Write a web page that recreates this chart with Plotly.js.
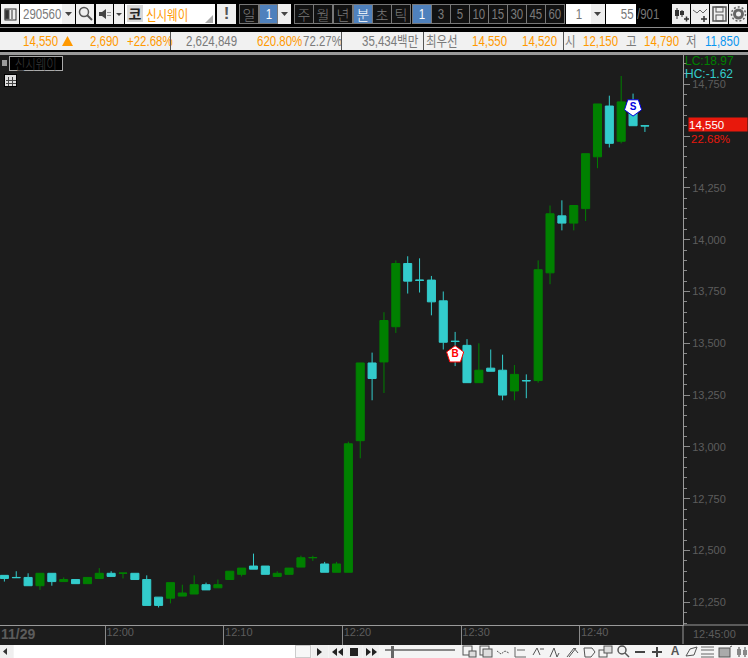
<!DOCTYPE html>
<html>
<head>
<meta charset="utf-8">
<script src="https://cdn.plot.ly/plotly-3.0.1.min.js"></script>
<style>
  html, body { margin: 0; padding: 0; background: #000; overflow: hidden; }
  #wrap { position: relative; width: 748px; height: 658px; overflow: hidden; }
  #chart { position: absolute; left: 0; top: 0; width: 748px; height: 658px; }
  #bars { position: absolute; left: 0; top: 0; width: 748px; height: 658px; pointer-events: none; }
  .b { position: absolute; box-sizing: border-box; white-space: nowrap; text-align: center;
       font-family: "Liberation Sans", "Noto Sans CJK KR", sans-serif; font-size: 14px; }
  .b svg { position: absolute; left: 0; top: 0; }
  .b span { display: inline-block; transform: scaleX(.82); }
</style>
</head>
<body>
<div id="wrap">
  <div id="chart"></div>
  <div id="bars"></div>
</div>
<script>
/* DATA */
const times = ["11:51","11:52","11:53","11:54","11:55","11:56","11:57","11:58","11:59","12:00",
  "12:01","12:02","12:03","12:04","12:05","12:06","12:07","12:08","12:09","12:10",
  "12:11","12:12","12:13","12:14","12:15","12:16","12:17","12:18","12:19","12:20",
  "12:21","12:22","12:23","12:24","12:25","12:26","12:27","12:28","12:29","12:30",
  "12:31","12:32","12:33","12:34","12:35","12:36","12:37","12:38","12:39","12:40",
  "12:41","12:42","12:43","12:44","12:45"];
const opens = [12380,12370,12370,12330,12390,12350,12360,12340,12365,12390,
  12390,12390,12360,12275,12270,12280,12290,12335,12320,12360,
  12385,12425,12425,12375,12385,12420,12465,12435,12395,12395,
  13030,13405,13410,13580,13885,13805,13805,13705,13510,13490,
  13310,13380,13370,13270,13320,13320,13840,14115,14080,14150,
  14400,14645,14475,14655,14550];
const highs = [12380,12400,12390,12390,12390,12370,12360,12370,12415,12400,
  12391,12390,12380,12275,12345,12335,12380,12345,12360,12400,
  12415,12485,12425,12400,12415,12475,12475,12445,12445,13025,
  13405,13455,13650,13900,13920,13910,13825,13750,13555,13520,
  13500,13470,13445,13395,13350,13900,14165,14190,14165,14415,
  14655,14695,14790,14705,14550];
const lows = [12350,12369,12330,12310,12330,12350,12340,12340,12365,12375,
  12365,12360,12235,12225,12245,12280,12290,12310,12320,12360,
  12375,12410,12385,12375,12385,12420,12450,12395,12395,12395,
  12945,13225,13260,13550,13740,13745,13635,13470,13390,13310,
  13310,13365,13225,13225,13235,13310,13785,14045,14045,14090,
  14345,14445,14465,14550,14520];
const closes = [12365,12369,12330,12390,12350,12360,12340,12370,12390,12375,
  12391,12360,12235,12235,12345,12295,12335,12310,12335,12400,
  12415,12410,12385,12390,12415,12465,12466,12395,12435,13015,
  13405,13330,13610,13885,13800,13804,13700,13505,13509,13310,
  13370,13365,13250,13350,13319,13855,14125,14080,14165,14415,
  14655,14465,14665,14550,14549];

const tickTimes = ["12:00","12:10","12:20","12:30","12:40"];
const priceTicks = [12250,12500,12750,13000,13250,13500,13750,14000,14250,14500,14750];
const priceLabels = ["12,250","12,500","12,750","13,000","13,250","13,500","13,750","14,000","14,250","","14,750"];
const buyTime = "12:29", buyPrice = 13445;
const sellTime = "12:44", sellPrice = 14640;
const lastPrice = 14555;

const BG = "#1c1c1c", GREEN = "#008000", CYAN = "#33cccc";
const NUM = "Liberation Sans, sans-serif";

// minutes since midnight, a bar sits in the middle of its minute
function toMin(t) {
  let p = t.split(":");
  return +p[0] * 60 + +p[1];
}
const barX = times.map(t => toMin(t) + 0.5);

/* CHART */
const candles = {
  type: "candlestick",
  x: barX, open: opens, high: highs, low: lows, close: closes,
  increasing: { line: { color: GREEN, width: 1 }, fillcolor: GREEN },
  decreasing: { line: { color: CYAN, width: 1 }, fillcolor: CYAN },
  whiskerwidth: 0,
  showlegend: false,
  hoverinfo: "skip"
};
const buyMark = {
  type: "scatter", mode: "markers+text",
  x: [toMin(buyTime) + 0.5], y: [buyPrice], text: ["B"],
  textposition: "middle center",
  textfont: { family: NUM, size: 10, color: "#ff0000", weight: 700 },
  marker: { symbol: "pentagon", size: 18, color: "#ffffff", line: { color: "#ff0000", width: 1 } },
  showlegend: false, hoverinfo: "skip"
};
const sellMark = {
  type: "scatter", mode: "markers+text",
  x: [toMin(sellTime) + 0.5], y: [sellPrice], text: ["S"],
  textposition: "middle center",
  textfont: { family: NUM, size: 10, color: "#0000e0", weight: 700 },
  marker: { symbol: "pentagon", angle: 180, size: 18, color: "#ffffff", line: { color: "#0000e0", width: 1 } },
  showlegend: false, hoverinfo: "skip"
};

const layout = {
  width: 748, height: 658,
  margin: { l: 0, r: 64.5, t: 55, b: 33 },
  paper_bgcolor: BG, plot_bgcolor: BG,
  boxgap: 0.32,
  boxgroupgap: 0,
  showlegend: false,
  xaxis: {
    type: "linear",
    range: [711.13, 768.71],
    rangeslider: { visible: false },
    tickmode: "array",
    tickvals: tickTimes.map(toMin),
    ticktext: tickTimes,
    ticks: "outside", ticklen: 19, tickwidth: 1, tickcolor: "#8a8a8a",
    ticklabelshift: 15, ticklabelstandoff: -22,
    tickfont: { family: NUM, size: 11, color: "#5c5c5c" },
    showgrid: false, zeroline: false,
    showline: true, linecolor: "#9a9a9a", linewidth: 1
  },
  yaxis: {
    side: "right",
    range: [12140.5, 14891.3],
    tickmode: "array",
    tickvals: priceTicks,
    ticktext: priceLabels,
    ticks: "outside", ticklen: 6, tickwidth: 1, tickcolor: "#8a8a8a",
    minor: { dtick: 50, tick0: 12250, ticks: "outside", ticklen: 3, tickwidth: 1, tickcolor: "#8a8a8a" },
    tickfont: { family: NUM, size: 11, color: "#5c5c5c" },
    showgrid: false, zeroline: false,
    showline: true, linecolor: "#9a9a9a", linewidth: 1
  },
  shapes: [
    { type: "line", xref: "paper", yref: "paper", x0: 1, x1: 1, y0: 0, y1: -0.0333, line: { color: "#9a9a9a", width: 1 } },
    { type: "line", xref: "paper", yref: "paper", x0: 1, x1: 1.1, y0: 0, y1: 0, line: { color: "#9a9a9a", width: 1 } }
  ],
  annotations: [
    { xref: "paper", yref: "paper", x: 1.001, y: 0.9903, xanchor: "left", yanchor: "middle", showarrow: false, borderpad: 0,
      text: "LC:18.97", font: { family: NUM, size: 12, color: GREEN } },
    { xref: "paper", yref: "paper", x: 1.001, y: 0.9675, xanchor: "left", yanchor: "middle", showarrow: false, borderpad: 0,
      text: "HC:-1.62", font: { family: NUM, size: 12, color: CYAN } },
    { xref: "paper", yref: "y", x: 1.0066, y: lastPrice, xanchor: "left", yanchor: "middle", showarrow: false,
      text: "14,550", align: "left", width: 58, height: 13, bgcolor: "#e8180c", borderpad: 0,
      font: { family: NUM, size: 11.5, color: "#ffffff" } },
    { xref: "paper", yref: "paper", x: 1.0095, y: 0.8535, xanchor: "left", yanchor: "middle", showarrow: false,
      text: "22.68%", font: { family: NUM, size: 11.5, color: "#e8180c" } },
    { xref: "paper", yref: "paper", x: -0.002, y: -0.0158, xanchor: "left", yanchor: "middle", showarrow: false,
      text: "<b>11/29</b>", font: { family: NUM, size: 14, color: "#5c5c5c" } },
    { xref: "paper", yref: "paper", x: 1.011, y: -0.0158, xanchor: "left", yanchor: "middle", showarrow: false,
      text: "12:45:00", font: { family: NUM, size: 11, color: "#5c5c5c" } }
  ]
};

Plotly.newPlot("chart", [candles, buyMark, sellMark], layout, { displayModeBar: false, staticPlot: true });

/* WINDOW CHROME AROUND THE CHART */
const bars = document.getElementById("bars");
const LIGHT = "#efefef", DARK = "#111111", BLUE = "#4f81bd";
const ORANGE = "#ff9900", TXT = "#7a7a7a";

// wide=true keeps the glyphs at full width, otherwise they are squeezed like the bitmap font
function box(x, y, w, h, bg, border, text, color, extra, wide) {
  let d = document.createElement("div");
  d.className = "b";
  d.style.cssText = "left:" + x + "px;top:" + y + "px;width:" + w + "px;height:" + h + "px;line-height:" + (h - (border ? 2 : 0)) + "px;" +
    (bg ? "background:" + bg + ";" : "") + (border ? "border:1px solid " + border + ";" : "") +
    (color ? "color:" + color + ";" : "") + (extra || "");
  if (text) {
    let s = document.createElement("span");
    s.textContent = text;
    if (wide) s.style.transform = "none";
    let al = d.style.textAlign;
    s.style.transformOrigin = al === "left" ? "left center" : al === "right" ? "right center" : "center center";
    d.appendChild(s);
  }
  bars.appendChild(d);
  return d;
}
function icon(x, y, w, h, bg, inner) {
  let d = box(x, y, w, h, bg, null);
  d.innerHTML = '<svg width="' + w + '" height="' + h + '" fill="none" stroke="#555">' + inner + "</svg>";
  return d;
}
const arrowDown = '<path d="M3 8h7l-3.5 4z" fill="#444" stroke="none"/>';
const KR = 'font-family:"Noto Sans CJK KR",sans-serif;font-weight:300;';

// black strips
box(0, 0, 748, 32, "#000");
box(0, 27, 748, 1, "#8c8c8c");
box(0, 50, 748, 2, "#000");
box(0, 52, 748, 3, "#9a9a9a");

// first row
icon(1, 4, 18, 20, LIGHT, '<rect x="4" y="5" width="11" height="11" stroke="#333"/><rect x="4" y="6" width="4" height="9" fill="#333"/><path d="M11 6v9" stroke="#333"/>');
box(20, 4, 42, 20, "#fff");
box(23, 4, 39, 20, null, null, "290560", "#7a7a7a", "text-align:left;line-height:20px;");
icon(62, 4, 13, 20, LIGHT, arrowDown);
icon(76, 4, 18, 20, LIGHT, '<circle cx="8" cy="8" r="4.5" stroke="#555" stroke-width="1.5"/><path d="M11 11l5 5" stroke="#555" stroke-width="2"/>');
icon(96, 4, 17, 20, LIGHT, '<path d="M3 8h3l4-3v10l-4-3h-3z" fill="#444" stroke="none"/><path d="M12 8v1M12 11v1M14 8v1M14 11v1" stroke="#444"/>');
icon(114, 4, 10, 20, LIGHT, '<path d="M2 9h6l-3 3z" fill="#444" stroke="none"/>');
box(125, 4, 90, 20, "#fff");
box(127, 5, 16, 17, "#d8d8d8", null, "코", "#222", KR + "font-size:14px;font-weight:700;line-height:17px;", true);
box(146, 4, 50, 20, null, null, "신시웨이", ORANGE, KR + "font-size:14px;font-weight:400;line-height:20px;text-align:left;");
icon(205, 15, 8, 8, null, '<path d="M8 0v8h-8z" fill="#aaa" stroke="none"/>');
box(217, 4, 19, 20, LIGHT, null, "!", "#555", "font-size:17px;font-weight:700;line-height:20px;", true);
box(239, 4, 20, 20, DARK, "#777", "일", TXT, KR, true);
box(259, 4, 19, 20, BLUE, "#777", "1", "#fff");
icon(278, 4, 13, 20, LIGHT, arrowDown);

const periodLabels = ["주", "월", "년", "분", "초", "틱"];
const periodX = [294, 313, 333, 353, 372, 391];
periodLabels.forEach((s, i) => {
  let on = s === "분";
  box(periodX[i], 4, 20, 20, on ? BLUE : DARK, "#777", s, on ? "#fff" : TXT, KR, true);
});
const minuteLabels = ["1", "3", "5", "10", "15", "30", "45", "60"];
minuteLabels.forEach((s, i) => {
  let on = i === 0;
  box(412 + i * 19, 4, 20, 20, on ? BLUE : DARK, "#777", s, on ? "#fff" : TXT);
});
box(566, 4, 25, 20, "#fff", null, "1", "#777", "line-height:20px;");
icon(591, 4, 14, 20, LIGHT, arrowDown);
box(606, 4, 30, 20, "#fff", null, "55", "#777", "text-align:right;line-height:20px;padding-right:2px;");
box(637, 4, 30, 20, null, null, "/901", "#777", "text-align:left;line-height:20px;");
icon(672, 4, 18, 20, LIGHT, '<path d="M5 4v11M10 6v7" stroke="#333"/><rect x="3" y="6" width="4" height="6" fill="#333" stroke="none"/><rect x="8" y="7" width="4" height="4" fill="#333" stroke="none"/><path d="M12 15h5M14.500 12.500v5" stroke="#333" stroke-width="1.500"/>');
icon(691, 4, 18, 20, LIGHT, '<path d="M2 6l4 3 3-3 3 3 4-4" stroke="#666"/><path d="M10 15h6M13 12v6" stroke="#333" stroke-width="1.500"/>');
icon(710, 4, 18, 20, LIGHT, '<rect x="3" y="3" width="13" height="14" stroke="#555" stroke-width="1.500"/><rect x="6" y="3" width="7" height="5" stroke="#555"/><rect x="6" y="11" width="7" height="6" stroke="#555"/>');
icon(729, 4, 18, 20, LIGHT, '<circle cx="9.500" cy="10" r="4" stroke="#666" stroke-width="3"/><circle cx="9.500" cy="10" r="7" stroke="#666" stroke-width="1.500" stroke-dasharray="2 2"/>');

// second row
box(0, 32, 748, 18, "#f1f1f1");
const rowTexts = [
  ["14,550", 23, ORANGE], ["2,690", 90, ORANGE], ["+22.68%", 127, ORANGE],
  ["2,624,849", 186, TXT], ["620.80%", 257, ORANGE], ["72.27%", 303, TXT],
  ["35,434백만", 362, TXT], ["최우선", 426, TXT], ["14,550", 472, ORANGE], ["14,520", 522, ORANGE],
  ["시", 565, TXT], ["12,150", 583, ORANGE], ["고", 626, TXT], ["14,790", 644, ORANGE],
  ["저", 686, TXT], ["11,850", 705, "#0a96f0"]
];
rowTexts.forEach(r => {
  let d = box(r[1], 32, 60, 18, null, null, r[0], r[2], "text-align:left;line-height:18px;");
  d.style.width = "auto";
});
icon(62, 36, 11, 10, null, '<path d="M0 10L5.500 0 11 10z" fill="' + ORANGE + '" stroke="none"/>');
[170, 341, 423, 563].forEach(x => box(x, 32, 1, 18, "#555"));

// chart corner: name tag and table button
box(2, 60, 5, 6, "#9a9a9a");
box(9, 56, 54, 15, "#000", "#aaaaaa", "신시웨이", "#3c3c3c", KR + "font-size:14px;line-height:13px;");
icon(4, 74, 13, 13, "#000", '<rect x="1.500" y="1.500" width="10" height="10" fill="#ddd" stroke="#ddd"/><path d="M4.500 3v9M8.500 3v9M2 6.500h10M2 9.500h10" stroke="#444"/>');

// bottom row
box(0, 645, 748, 13, "#f4f4f4");
box(14, 645, 281, 13, "#fff");
icon(0, 645, 13, 13, LIGHT, '<path d="M7 3v7L3 6.500z" fill="#333" stroke="none"/>');
box(295, 645, 16, 13, "#f7f7f7", "#cccccc");
const playBtns = [
  [312, '<path d="M5 3v8l5-4z" fill="#222" stroke="none"/>'],
  [329, '<path d="M8 3v8l-5-4zM14 3v8l-5-4z" fill="#222" stroke="none"/>'],
  [346, '<rect x="4" y="3" width="8" height="8" fill="#222" stroke="none"/>'],
  [363, '<path d="M3 3v8l5-4zM9 3v8l5-4z" fill="#222" stroke="none"/>']
];
playBtns.forEach(p => icon(p[0], 645, 16, 13, LIGHT, p[1]));
box(385, 649, 70, 2, "#888");
box(391, 646, 3, 12, "#666");

const toolIcons = [
  [462, '<rect x="1" y="1" width="9" height="9"/><rect x="7" y="6" width="7" height="6" fill="#ddd"/>'],
  [479, '<rect x="1" y="1" width="9" height="9"/><rect x="4" y="4" width="9" height="8" fill="#ddd"/>'],
  [496, '<path d="M1 6l4 3 4-3 4 2" stroke-dasharray="2 1"/>'],
  [513, '<path d="M2 2v10h11M4 5h8" stroke="#666"/>'],
  [531, '<path d="M2 10l4-7 3 7M9 4h4"/>'],
  [548, '<path d="M2 12l4-9 3 9 2-4"/>'],
  [565, '<path d="M2 12l7-9 4 5M4 12l7-9"/>'],
  [582, '<path d="M2 3h8l3 4-4 5H3z"/>'],
  [598, '<rect x="1" y="5" width="8" height="7"/><rect x="6" y="1" width="8" height="7" fill="#ddd"/>'],
  [616, '<circle cx="6" cy="5" r="4" stroke-width="1.500"/><path d="M9 8l4 4" stroke-width="1.500"/>'],
  [633, '<path d="M2 7h10" stroke="#444" stroke-width="2"/>'],
  [651, '<path d="M1 7h10M6 2v10" stroke="#444" stroke-width="2"/>'],
  [684, '<path d="M2 11l4-7 7-2-3 8z"/>'],
  [700, '<path d="M1 2h13M1 5h13M1 9h13M1 12h13" stroke="#666"/>'],
  [718, '<rect x="1" y="3" width="11" height="9" fill="#aaa"/><path d="M12 2l2-1"/>'],
  [735, '<path d="M4 2v10M10 2v10" stroke="#444"/><rect x="2" y="4" width="4" height="6" fill="#888" stroke="none"/><rect x="8" y="5" width="4" height="5" fill="#888" stroke="none"/>']
];
toolIcons.forEach(t => icon(t[0], 645, 15, 13, null, t[1]));
box(668, 645, 14, 13, null, null, "A", "#555", "font-weight:700;font-size:12px;line-height:13px;", true);
</script>
</body>
</html>
